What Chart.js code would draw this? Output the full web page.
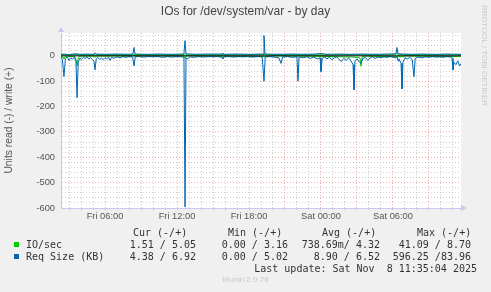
<!DOCTYPE html>
<html>
<head>
<meta charset="utf-8">
<script src="https://cdn.jsdelivr.net/npm/chart.js@4/dist/chart.umd.min.js"></script>
<style>
  html, body { margin: 0; padding: 0; background: #f0f0f0; }
  #wrap { position: relative; width: 491px; height: 292px; overflow: hidden; }
  #chart { position: absolute; left: 0; top: 0; }
  .t { position: absolute; white-space: pre; }
  #title { left: 0; width: 491px; top: 4px; text-align: center; font: 12px "Liberation Sans", Arial, sans-serif; color: #444; }
  .mono { font: 10px "DejaVu Sans Mono", monospace; color: #333; line-height: 12px; }
  .sq { position: absolute; width: 5px; height: 5px; }
  #rrd { left: 478px; top: 5px; font: 8px "Liberation Sans", sans-serif; color: #c8c8c8; transform-origin: 0 0; transform: translate(11px, 0) rotate(90deg); }
  #munin { left: 0; width: 491px; top: 275px; text-align: center; font: 8px "Liberation Sans", sans-serif; color: #c8c8c8; }
</style>
</head>
<body>
<div id="wrap">
  <canvas id="chart" width="491" height="292"></canvas>
  <div class="t" id="title">IOs for /dev/system/var - by day</div>
  <div class="t" id="rrd">RRDTOOL / TOBI OETIKER</div>
  <div id="legend"></div>
  <div class="t" id="munin">Munin 2.0.76</div>
</div>
<script>
// 시간 축: 금요일 00:00 기준 시간(h)
const startHour = 2.333;
const endHour = 35.667;
const xLabelHours = [6, 12, 18, 24, 30];
const xLabelText = ["Fri 06:00", "Fri 12:00", "Fri 18:00", "Sat 00:00", "Sat 06:00"];
const yMin = -600;
const yMax = 90;

// IO/sec (read 음수, write 양수)
const ioReadPts = [
  [2.33, -1], [2.5, -5], [2.58, -12], [2.7, -2], [3.5, -3], [3.6, -20], [3.67, -40], [3.77, -8], [3.9, -1],
  [5.08, -1], [5.17, -6], [5.3, -1], [8.0, -0.5], [12.58, -1], [12.67, -10], [12.75, -0.5], [19.25, -3],
  [20.0, -0.3], [24.0, -2], [26.75, -5], [27.25, -8], [27.33, -41], [27.42, -5], [27.6, -1], [30.75, -4],
  [31.0, -0.5], [35.0, -3], [35.67, -1.5]
];
const ioWritePts = [
  [2.33, 4], [3.5, 5], [5.0, 4], [6.5, 4.5], [8.0, 4], [9.5, 5], [11.0, 4], [12.5, 4.5], [12.67, 8], [12.8, 4],
  [14.0, 4], [16.0, 4.5], [18.0, 4], [19.25, 6], [20.0, 4], [22.0, 4.5], [24.0, 4], [26.0, 5], [28.0, 4],
  [30.0, 4.5], [30.33, 8.7], [30.5, 4], [32.0, 4.5], [34.0, 4], [35.67, 5]
];

// Req Size (KB)
const reqReadPts = [
  [2.33, -4], [2.45, -15], [2.58, -82], [2.7, -12], [2.85, -5], [3.0, -18], [3.15, -8], [3.3, -12], [3.45, -6],
  [3.58, -20], [3.67, -165], [3.77, -25], [3.9, -10], [4.05, -14], [4.2, -6], [4.35, -10], [4.5, -4], [4.65, -12],
  [4.8, -8], [4.95, -15], [5.08, -20], [5.17, -55], [5.27, -12], [5.4, -6], [5.55, -14], [5.7, -9], [5.85, -15],
  [6.0, -7], [6.15, -12], [6.3, -5], [6.42, -18], [6.55, -6], [6.75, -10], [7.0, -4], [7.25, -8], [7.5, -3],
  [7.75, -6], [8.0, -3], [8.3, -5], [8.42, -40], [8.52, -4], [8.8, -3], [9.2, -5], [9.6, -3], [10.0, -4],
  [10.4, -3], [10.8, -6], [11.2, -3], [11.6, -5], [12.0, -3], [12.4, -4], [12.58, -6], [12.67, -596], [12.75, -8],
  [12.9, -12], [13.1, -4], [13.4, -6], [13.8, -3], [14.2, -5], [14.6, -3], [15.0, -4], [15.4, -3], [15.75, -6],
  [15.83, -12], [15.92, -4], [16.3, -3], [16.7, -5], [17.1, -3], [17.5, -4], [17.9, -3], [18.3, -5], [18.7, -3],
  [19.1, -4], [19.25, -100], [19.35, -5], [19.7, -3], [20.1, -5], [20.5, -8], [20.67, -30], [20.8, -5], [21.2, -3],
  [21.6, -6], [22.0, -4], [22.08, -100], [22.17, -5], [22.5, -8], [22.8, -4], [23.1, -10], [23.4, -5], [23.7, -12],
  [23.92, -8], [24.0, -62], [24.1, -10], [24.3, -5], [24.5, -12], [24.7, -6], [24.9, -15], [25.1, -8], [25.3, -4],
  [25.5, -14], [25.7, -22], [25.9, -10], [26.1, -18], [26.3, -8], [26.5, -20], [26.67, -35], [26.75, -134],
  [26.83, -20], [27.0, -12], [27.2, -25], [27.33, -30], [27.5, -10], [27.7, -6], [27.9, -18], [28.1, -8],
  [28.3, -4], [28.5, -10], [28.75, -5], [29.0, -8], [29.25, -4], [29.5, -6], [29.75, -3], [30.0, -5], [30.25, -8],
  [30.33, -3], [30.42, -20], [30.5, -12], [30.67, -30], [30.75, -130], [30.83, -25], [31.0, -8], [31.2, -12],
  [31.4, -6], [31.6, -15], [31.75, -83], [31.85, -10], [32.1, -5], [32.4, -8], [32.7, -4], [33.0, -6], [33.3, -3],
  [33.6, -5], [33.9, -4], [34.2, -6], [34.5, -3], [34.8, -5], [34.92, -10], [35.0, -56], [35.08, -25],
  [35.25, -35], [35.4, -20], [35.55, -40], [35.67, -30]
];
const reqWritePts = [
  [2.33, 6], [2.6, 7], [3.0, 5], [3.5, 8], [4.0, 6], [4.5, 7], [5.0, 6], [5.08, 8], [5.17, 12], [5.27, 7], [6.0, 6],
  [7.0, 7], [8.0, 6], [8.33, 8], [8.42, 33], [8.5, 7], [9.5, 6], [10.5, 7], [11.5, 6], [12.5, 7], [12.58, 10],
  [12.67, 60], [12.75, 8], [13.5, 6], [14.5, 7], [15.75, 7], [15.83, 11], [15.92, 6], [17.0, 7], [18.0, 6],
  [19.17, 7], [19.25, 80], [19.33, 7], [20.5, 6], [21.5, 7], [22.5, 6], [23.5, 7], [24.0, 9], [24.5, 6], [25.5, 7],
  [26.5, 6], [27.5, 7], [28.5, 6], [29.5, 7], [30.25, 8], [30.33, 33], [30.42, 8], [31.5, 6], [32.5, 7],
  [33.5, 6], [34.5, 7], [35.67, 6]
];

// 범례 표 (Cur / Min / Avg / Max)
const seriesNames = ["IO/sec", "Req Size (KB)"];
const seriesColors = ["#00cc00", "#0066b3"];
const statHeaders = ["Cur (-/+)", "Min (-/+)", "Avg (-/+)", "Max (-/+)"];
const statRows = [
  ["1.51 / 5.05", "0.00 / 3.16", "738.69m/ 4.32", "41.09 / 8.70"],
  ["4.38 / 6.92", "0.00 / 5.02", "8.90 / 6.52", "596.25 /83.96"]
];
const lastUpdate = "Last update: Sat Nov  8 11:35:04 2025";

function toXY(pts) {
  return pts.map(p => ({ x: p[0], y: p[1] }));
}

/** ========== 범례 HTML ========== */
function renderLegend() {
  const legend = document.getElementById("legend");
  let html = "";
  const headerX = [133, 228, 322, 417];
  statHeaders.forEach((h, i) => {
    html += `<div class="t mono" style="left:${headerX[i]}px;top:227px">${h}</div>`;
  });
  const colEnd = [196, 288, 380, 471];
  statRows.forEach((row, r) => {
    const top = 239 + r * 12;
    html += `<div class="sq" style="left:14px;top:${top + 3}px;background:${seriesColors[r]}"></div>`;
    html += `<div class="t mono" style="left:26px;top:${top}px">${seriesNames[r]}</div>`;
    row.forEach((v, i) => {
      html += `<div class="t mono" style="right:${491 - colEnd[i]}px;top:${top}px">${v}</div>`;
    });
  });
  html += `<div class="t mono" style="right:${491 - 477}px;top:263px">${lastUpdate}</div>`;
  legend.innerHTML = html;
}
renderLegend();

/** ========== 플롯 배경 / 축 화살표 ========== */
const plotDecor = {
  id: "plotDecor",
  beforeDraw(chart) {
    const { ctx, chartArea: a } = chart;
    ctx.save();
    ctx.fillStyle = "#ffffff";
    ctx.fillRect(a.left, a.top, a.right - a.left, a.bottom - a.top);
    ctx.restore();
  },
  afterDraw(chart) {
    const { ctx, chartArea: a } = chart;
    ctx.save();
    ctx.fillStyle = "#c8c8f4";
    ctx.beginPath();
    ctx.moveTo(a.left - 3, a.top - 1);
    ctx.lineTo(a.left + 3, a.top - 1);
    ctx.lineTo(a.left, a.top - 6);
    ctx.fill();
    ctx.beginPath();
    ctx.moveTo(a.right, a.bottom - 3);
    ctx.lineTo(a.right, a.bottom + 3);
    ctx.lineTo(a.right + 6, a.bottom);
    ctx.fill();
    ctx.restore();
  }
};

const hourTicks = [];
for (let h = Math.ceil(startHour); h <= Math.floor(endHour); h++) hourTicks.push(h);
const yTicks = [];
for (let v = yMin; v <= 80; v += 20) yTicks.push(v);

const majorGrid = "rgba(240, 90, 90, 0.5)";
const minorGrid = "rgba(170, 170, 170, 0.55)";
const tickFont = { family: "Liberation Sans", size: 9.3 };

function line(data, color, order) {
  return {
    data: toXY(data),
    borderColor: color,
    borderWidth: 1,
    pointRadius: 0,
    tension: 0,
    fill: false,
    order: order
  };
}

new Chart(document.getElementById("chart"), {
  type: "line",
  data: {
    datasets: [
      { data: [{ x: startHour, y: 0 }, { x: endHour, y: 0 }], borderColor: "#000000", borderWidth: 1, pointRadius: 0, order: 0 },
      line(reqWritePts, "#0066b3", 1),
      line(reqReadPts, "#0066b3", 2),
      line(ioWritePts, "#00cc00", 3),
      line(ioReadPts, "#00cc00", 4)
    ]
  },
  options: {
    responsive: false,
    animation: false,
    events: [],
    layout: { padding: { top: 33, right: 30, left: 0, bottom: 0 } },
    plugins: { legend: { display: false }, tooltip: { enabled: false } },
    scales: {
      x: {
        type: "linear",
        min: startHour,
        max: endHour,
        afterFit: s => { s.height = 292 - 208; },
        afterBuildTicks: s => { s.ticks = hourTicks.map(v => ({ value: v })); },
        ticks: {
          autoSkip: false,
          maxRotation: 0,
          padding: 1,
          color: "#555",
          font: tickFont,
          callback: v => {
            const i = xLabelHours.indexOf(v);
            return i >= 0 ? xLabelText[i] : "";
          }
        },
        grid: {
          color: c => (c.tick && c.tick.value % 3 === 0 ? majorGrid : minorGrid),
          lineWidth: 1,
          drawTicks: true,
          tickLength: 2
        },
        border: { color: "#c8c8f4", width: 1, dash: [1, 2] }
      },
      y: {
        type: "linear",
        min: yMin,
        max: yMax,
        afterFit: s => { s.width = 61; },
        afterBuildTicks: s => { s.ticks = yTicks.map(v => ({ value: v })); },
        ticks: {
          autoSkip: false,
          padding: 6,
          color: "#555",
          font: tickFont,
          callback: v => (v % 100 === 0 ? String(v) : "")
        },
        grid: {
          color: c => (c.tick && c.tick.value % 100 === 0 ? majorGrid : minorGrid),
          lineWidth: 1,
          drawTicks: false
        },
        border: { color: "#c8c8f4", width: 1, dash: [1, 2] },
        title: {
          display: true,
          text: "Units read (-) / write (+)",
          color: "#555",
          font: { family: "Liberation Sans", size: 10.3 },
          padding: { top: 3, bottom: 0 }
        }
      }
    }
  },
  plugins: [plotDecor]
});
</script>
</body>
</html>
